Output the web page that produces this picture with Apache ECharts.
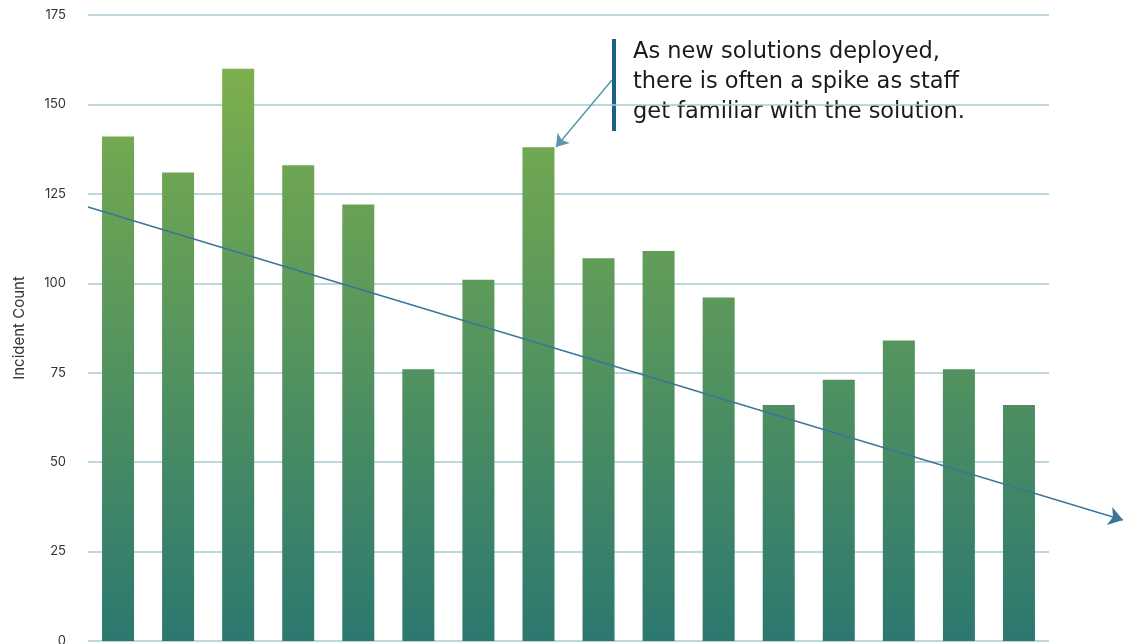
<!DOCTYPE html>
<html>
<head>
<meta charset="utf-8">
<script src="https://cdn.jsdelivr.net/npm/echarts@6/dist/echarts.min.js"></script>
<style>
  html, body { margin: 0; padding: 0; background: #fff; }
  #main { width: 1123px; height: 644px; }
</style>
</head>
<body>
<div id="main"></div>
<script>
// data
var categories = ['1', '2', '3', '4', '5', '6', '7', '8', '9', '10', '11', '12', '13', '14', '15', '16'];
var incidents = [141, 131, 160, 133, 122, 76, 101, 138, 107, 109, 96, 66, 73, 84, 76, 66];
var yTicks = [0, 25, 50, 75, 100, 125, 150, 175];
// trend arrow: value at start and end of the drawn line
var trendX = [0, 1];
var trendY = [121.3, 33.8];
var noteLines = ['As new solutions deployed,', 'there is often a spike as staff', 'get familiar with the solution.'];

var chart = echarts.init(document.getElementById('main'));

var option = {
    animation: false,
    grid: [
        { left: 88, right: 74, top: 15, bottom: 3, outerBoundsMode: 'none' },
        { left: 88, right: 0, top: 15, bottom: 3, outerBoundsMode: 'none' }
    ],
    xAxis: [{
        type: 'category',
        data: categories,
        gridIndex: 0,
        axisLine: { show: false },
        axisTick: { show: false },
        axisLabel: { show: false },
        splitLine: { show: false }
    }, {
        type: 'value',
        gridIndex: 1,
        min: trendX[0],
        max: trendX[1],
        show: false,
        splitLine: { show: false }
    }],
    yAxis: [{
        type: 'value',
        gridIndex: 0,
        min: yTicks[0],
        max: yTicks[yTicks.length - 1],
        interval: 25,
        name: 'Incident Count',
        nameLocation: 'middle',
        nameGap: 61,
        nameTextStyle: { fontFamily: 'Inter', fontSize: 15, color: '#333' },
        axisLine: { show: false },
        axisTick: { show: false },
        axisLabel: { fontFamily: 'Inter', fontSize: 13, color: '#333', margin: 22 },
        splitLine: { lineStyle: { color: '#a6cbd2', width: 1.5 } }
    }, {
        type: 'value',
        gridIndex: 1,
        min: 0,
        max: 175,
        show: false,
        splitLine: { show: false }
    }],
    series: [{
        name: 'Incident Count',
        type: 'bar',
        xAxisIndex: 0,
        yAxisIndex: 0,
        data: incidents,
        barWidth: 32,
        itemStyle: {
            // 全局渐变，按整个绘图区高度
            color: new echarts.graphic.LinearGradient(0, 15, 0, 641, [
                { offset: 0, color: '#83b449' },
                { offset: 1, color: '#2c7870' }
            ], true)
        },
        markLine: {
            silent: true,
            symbol: ['none', 'arrow'],
            symbolSize: 12,
            label: { show: false },
            lineStyle: { color: '#5b96ad', width: 1.5, type: 'solid' },
            data: [[{ x: 612, y: 80 }, { x: 556, y: 147 }]]
        }
    }, {
        name: 'trend',
        type: 'line',
        xAxisIndex: 1,
        yAxisIndex: 1,
        data: [],
        markLine: {
            silent: true,
            symbol: ['none', 'arrow'],
            symbolSize: 14,
            label: { show: false },
            lineStyle: { color: '#3a7597', width: 1.6, type: 'solid' },
            data: [[{ coord: [trendX[0], trendY[0]] }, { coord: [trendX[1], trendY[1]] }]]
        }
    }],
    graphic: [{
        type: 'rect',
        shape: { x: 612, y: 39, width: 4, height: 92 },
        style: { fill: '#1d5f85' }
    }, {
        type: 'text',
        left: 633,
        top: 37,
        style: {
            text: noteLines.join('\n'),
            font: '22.5px "DejaVu Sans"',
            lineHeight: 30,
            fill: '#1a1a1a'
        }
    }]
};

chart.setOption(option);

window.onresize = function () {
    chart.resize();
};
</script>
</body>
</html>
